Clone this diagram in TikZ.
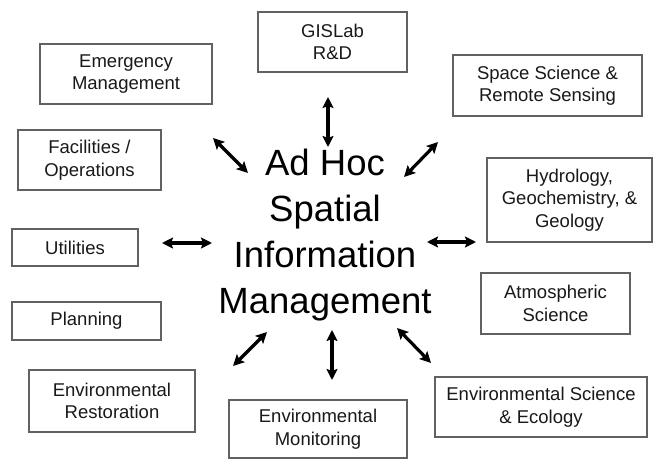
\documentclass[tikz,border=0pt]{standalone}
\usepackage{fontspec}
\setmainfont{Liberation Sans}
\usetikzlibrary{arrows.meta}
\begin{document}
\begin{tikzpicture}[x=1pt,y=-1pt,
  box/.style={draw=black!62, line width=1.4pt, align=center,
    font=\fontsize{18.5}{22.5}\selectfont, text=black!90, inner sep=0pt},
  dbl/.style={{Stealth[length=11pt,width=11pt,inset=2pt]}-{Stealth[length=11pt,width=11pt,inset=2pt]},
    line width=3.2pt, draw=black}]
\useasboundingbox[fill=white] (0,0) rectangle (654,460);
% boxes
\node[box, minimum width=172, minimum height=60] (em)  at (126,74)    {Emergency\\Management};
\node[box, minimum width=143, minimum height=60] (fac) at (89.5,160)  {Facilities /\\Operations};
\node[box, minimum width=149, minimum height=60] (gis) at (332.5,42)  {GISLab\\R\&D};
\node[box, minimum width=189, minimum height=61] (sp)  at (547.5,85.5){Space Science \&\\Remote Sensing};
\node[box, minimum width=165, minimum height=84] (hy)  at (569.5,200) {Hydrology,\\Geochemistry, \&\\Geology};
\node[box, minimum width=126, minimum height=37] (ut)  at (75,247.5)  {Utilities};
\node[box, minimum width=149, minimum height=38] (pl)  at (86.5,321)  {Planning};
\node[box, minimum width=166, minimum height=62] (er)  at (112,401)   {Environmental\\Restoration};
\node[box, minimum width=178, minimum height=58] (mon) at (318,429)   {Environmental\\Monitoring};
\node[box, minimum width=149, minimum height=61] (at)  at (555.5,303.5){Atmospheric\\Science};
\node[box, minimum width=212, minimum height=60] (ese) at (541,407)   {Environmental Science\\\& Ecology};
% centre
\node[align=center, inner sep=0pt, text=black,
  font=\fontsize{36.5}{46}\selectfont] (c) at (325,235.5)
  {Ad Hoc\\Spatial\\Information\\Management};
% arrow end points
\coordinate (n1) at (328,97);  \coordinate (n2) at (328,147);
\coordinate (nw1) at (213,138); \coordinate (nw2) at (248,173);
\coordinate (ne1) at (438,142); \coordinate (ne2) at (404,177);
\coordinate (w1) at (162,243); \coordinate (w2) at (212,243);
\coordinate (e1) at (427,242); \coordinate (e2) at (476,242);
\coordinate (sw1) at (267,332); \coordinate (sw2) at (233,366);
\coordinate (s1) at (332,330); \coordinate (s2) at (332,380);
\coordinate (se1) at (397,328); \coordinate (se2) at (431,363);
\draw[dbl] (n1) -- (n2);
\draw[dbl] (nw1) -- (nw2);
\draw[dbl] (ne1) -- (ne2);
\draw[dbl] (w1) -- (w2);
\draw[dbl] (e1) -- (e2);
\draw[dbl] (sw1) -- (sw2);
\draw[dbl] (s1) -- (s2);
\draw[dbl] (se1) -- (se2);
\end{tikzpicture}
\end{document}
